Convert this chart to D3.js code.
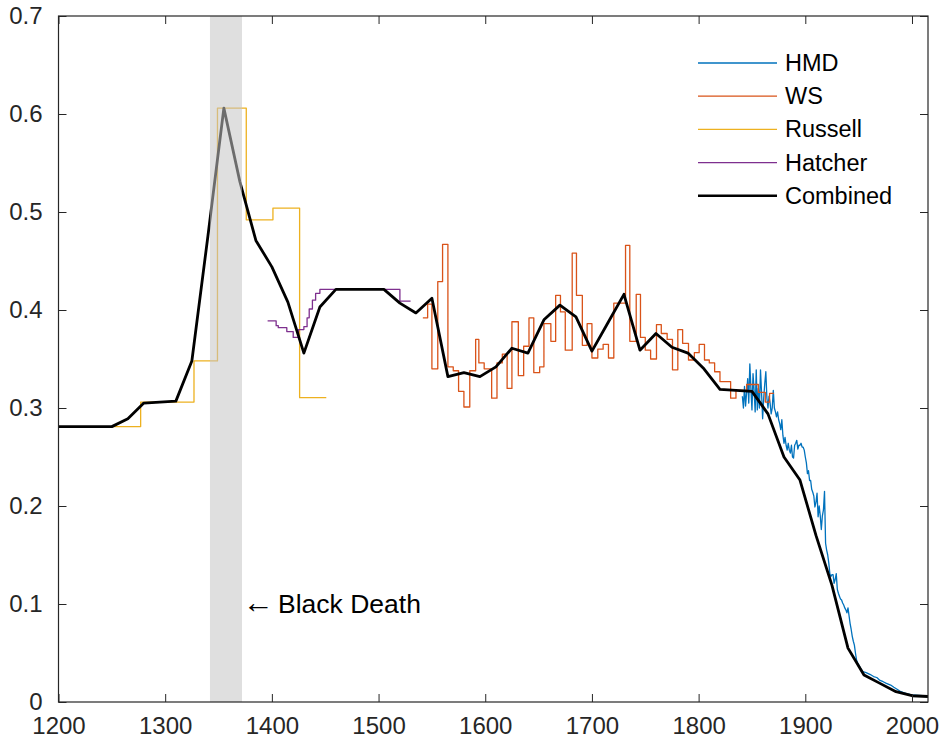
<!DOCTYPE html>
<html>
<head>
<meta charset="utf-8">
<script src="https://cdn.jsdelivr.net/npm/d3@7"></script>
<style>
  body { margin: 0; background: #fff; }
  text { font-family: "Liberation Sans", Arial, sans-serif; }
</style>
</head>
<body>
<div id="chart"></div>
<script>
// ---- data ----
var xTicks = [1200, 1300, 1400, 1500, 1600, 1700, 1800, 1900, 2000];
var yTicks = [0, 0.1, 0.2, 0.3, 0.4, 0.5, 0.6, 0.7];

var seriesNames = ["HMD", "WS", "Russell", "Hatcher", "Combined"];
var seriesColors = ["#0072BD", "#D95319", "#EDB120", "#7E2F8E", "#000000"];

var hmdYears = [1841, 1842, 1843, 1844, 1846, 1847, 1848, 1849, 1850, 1851, 1852, 1853, 1854, 1855, 1856, 1857, 1858, 1859, 1860,
  1861, 1862, 1863, 1864, 1865, 1866, 1867, 1868, 1869, 1870, 1871, 1872, 1873, 1874, 1875, 1876, 1877, 1878, 1879, 1880,
  1881, 1882, 1883, 1884, 1885, 1886, 1887, 1888, 1889, 1890, 1891, 1892, 1893, 1894, 1895, 1896, 1897, 1898, 1899, 1900,
  1901, 1902, 1903, 1904, 1905, 1906, 1907, 1908, 1909, 1910, 1911, 1912, 1913, 1914, 1915, 1916, 1917, 1918, 1919, 1920,
  1921, 1922, 1923, 1924, 1925, 1926, 1927, 1928, 1929, 1930, 1931, 1932, 1933, 1934, 1935, 1936, 1937, 1938, 1939, 1940,
  1941, 1942, 1943, 1944, 1945, 1946, 1947, 1948, 1949, 1950, 1952, 1954, 1957, 1961, 1964, 1967, 1970, 1973, 1976, 1980,
  1983, 1986, 1989, 1992, 1995, 1998, 2001, 2005, 2010, 2015];
var hmdValues = [0.312, 0.300, 0.322, 0.302, 0.330, 0.305, 0.345, 0.320, 0.298, 0.335, 0.318, 0.296, 0.339, 0.298, 0.320, 0.300, 0.339, 0.315, 0.289,
  0.310, 0.325, 0.337, 0.310, 0.300, 0.312, 0.305, 0.294, 0.300, 0.318, 0.300, 0.296, 0.291, 0.296, 0.288, 0.284, 0.278, 0.288, 0.272, 0.264,
  0.270, 0.262, 0.257, 0.264, 0.257, 0.254, 0.262, 0.250, 0.249, 0.262, 0.264, 0.267, 0.258, 0.262, 0.262, 0.264, 0.260, 0.260, 0.257, 0.250,
  0.244, 0.233, 0.236, 0.226, 0.226, 0.217, 0.214, 0.210, 0.199, 0.204, 0.213, 0.189, 0.200, 0.190, 0.176, 0.190, 0.196, 0.215, 0.162, 0.155,
  0.150, 0.142, 0.131, 0.128, 0.130, 0.130, 0.121, 0.125, 0.131, 0.115, 0.111, 0.108, 0.105, 0.104, 0.101, 0.099, 0.096, 0.094, 0.091, 0.096,
  0.088, 0.080, 0.074, 0.067, 0.062, 0.058, 0.050, 0.043, 0.040, 0.038, 0.034, 0.031, 0.030, 0.028, 0.026, 0.025, 0.022, 0.0207, 0.019, 0.0173,
  0.015, 0.013, 0.011, 0.0095, 0.0085, 0.0078, 0.0072, 0.0068, 0.0064, 0.0061];

// step series: value holds from its year to the next year (last value repeated at the end year)
var wsYears = [1541.5, 1546, 1550, 1555.5, 1560, 1565, 1570, 1575, 1580, 1585.5, 1591, 1594, 1599, 1606, 1611, 1616, 1620.5, 1625, 1631, 1636,
  1641, 1645.5, 1651, 1655, 1661.5, 1666, 1670.5, 1675, 1681.5, 1685.5, 1691, 1695.5, 1700, 1705.5, 1710.5, 1715.5, 1720.5, 1731.5, 1735.5, 1741.5,
  1745.5, 1750, 1755, 1760.5, 1765, 1770.5, 1775.5, 1780.5, 1785, 1790.5, 1796, 1800.5, 1805.5, 1810, 1815, 1820, 1830, 1835, 1845, 1856,
  1862.5, 1866.5, 1870.5];
var wsValues = [0.392, 0.406, 0.340, 0.429, 0.467, 0.342, 0.338, 0.317, 0.301, 0.338, 0.370, 0.346, 0.340, 0.310, 0.346, 0.355, 0.320, 0.388, 0.333, 0.363,
  0.392, 0.336, 0.342, 0.386, 0.368, 0.415, 0.398, 0.359, 0.458, 0.415, 0.364, 0.386, 0.351, 0.360, 0.365, 0.351, 0.407, 0.466, 0.368, 0.416,
  0.372, 0.359, 0.350, 0.385, 0.376, 0.370, 0.339, 0.380, 0.366, 0.349, 0.3565, 0.365, 0.349, 0.346, 0.337, 0.327, 0.310, 0.318, 0.324, 0.316,
  0.306, 0.315, 0.315];

var russellYears = [1200, 1277, 1327, 1349, 1376, 1401, 1426, 1451];
var russellValues = [0.281, 0.306, 0.348, 0.606, 0.492, 0.504, 0.3105, 0.3105];

var hatcherYears = [1396, 1404, 1406, 1414, 1420, 1425, 1430, 1433, 1435, 1438, 1441, 1445, 1520, 1530];
var hatcherValues = [0.389, 0.384, 0.382, 0.378, 0.372, 0.380, 0.383, 0.392, 0.401, 0.410, 0.417, 0.421, 0.409, 0.409];

var combinedYears = [1200, 1250, 1265, 1280, 1295, 1310, 1325, 1340, 1355, 1370, 1385, 1400, 1415, 1430, 1445, 1460, 1475, 1490, 1505,
  1520, 1535, 1550, 1565, 1580, 1595, 1610, 1625, 1640, 1655, 1670, 1685, 1700, 1715, 1730, 1745, 1760, 1775, 1790, 1805,
  1820, 1835, 1850, 1865, 1880, 1895, 1910, 1925, 1940, 1955, 1970, 1985, 2000, 2015];
var combinedValues = [0.281, 0.281, 0.289, 0.305, 0.306, 0.307, 0.348, 0.475, 0.606, 0.531, 0.471, 0.444, 0.408, 0.356, 0.403, 0.421, 0.421, 0.421, 0.421,
  0.407, 0.397, 0.412, 0.332, 0.336, 0.332, 0.342, 0.361, 0.356, 0.390, 0.405, 0.393, 0.358, 0.387, 0.416, 0.359, 0.376, 0.362, 0.356, 0.340,
  0.319, 0.318, 0.317, 0.294, 0.250, 0.2265, 0.170, 0.119, 0.055, 0.0275, 0.019, 0.0105, 0.0064, 0.0056];

var blackDeath = [1342, 1372];
var annotationArrow = "\u2190";
var annotationLabel = "Black Death";

// ---- chart ----
var W = 943, H = 744;
// plot box (note: "top" is taken by window.top, so prefix these)
var boxL = 58.5, boxR = 928, boxT = 16, boxB = 702;

var svg = d3.select("#chart").append("svg")
  .attr("width", W).attr("height", H);

var x = d3.scaleLinear().domain([1200, 2015]).range([boxL, boxR]);
var y = d3.scaleLinear().domain([0, 0.7]).range([boxB, boxT]);

function zipPts(years, vals) {
  return years.map(function(yr, i) { return [yr, vals[i]]; });
}

var series = [
  { pts: zipPts(hmdYears, hmdValues), curve: d3.curveLinear, w: 1.3 },
  { pts: zipPts(wsYears, wsValues), curve: d3.curveStepAfter, w: 1.3 },
  { pts: zipPts(russellYears, russellValues), curve: d3.curveStepAfter, w: 1.3 },
  { pts: zipPts(hatcherYears, hatcherValues), curve: d3.curveStepAfter, w: 1.3 },
  { pts: zipPts(combinedYears, combinedValues), curve: d3.curveLinear, w: 2.8 }
];

var plot = svg.append("g");

series.forEach(function(s, i) {
  var line = d3.line()
    .x(function(d) { return x(d[0]); })
    .y(function(d) { return y(d[1]); })
    .curve(s.curve);
  plot.append("path")
    .datum(s.pts)
    .attr("d", line)
    .attr("fill", "none")
    .attr("stroke", seriesColors[i])
    .attr("stroke-width", s.w)
    .attr("stroke-linejoin", "round");
});

// translucent band drawn over the lines
plot.append("rect")
  .attr("x", x(blackDeath[0]))
  .attr("y", boxT)
  .attr("width", x(blackDeath[1]) - x(blackDeath[0]))
  .attr("height", boxB - boxT)
  .attr("fill", "#c4c4c4")
  .attr("fill-opacity", 0.55);

// annotation: arrow + label to the right of the band
var noteX = x(blackDeath[1]) + 1, noteY = y(0.1) + 9;
svg.append("text")
  .attr("x", noteX).attr("y", noteY)
  .attr("font-family", "'DejaVu Sans', sans-serif")
  .attr("font-size", 31)
  .attr("fill", "#000")
  .text(annotationArrow);
svg.append("text")
  .attr("x", noteX + 35).attr("y", noteY)
  .attr("font-size", 26.5)
  .attr("fill", "#000")
  .text(annotationLabel);

// axes: box with inward ticks on all four sides
var axisColor = "#262626";
var tickLen = 8;

var xAxis = d3.axisBottom(x).tickValues(xTicks).tickSize(-tickLen).tickPadding(15).tickFormat(d3.format("d"));
var yAxis = d3.axisLeft(y).tickValues(yTicks).tickSize(-tickLen).tickPadding(16)
  .tickFormat(function(d) { return d === 0 ? "0" : d3.format(".1f")(d); });

var gx = svg.append("g").attr("transform", "translate(0," + boxB + ")").call(xAxis);
var gy = svg.append("g").attr("transform", "translate(" + boxL + ",0)").call(yAxis);
var gxTop = svg.append("g").attr("transform", "translate(0," + boxT + ")")
  .call(d3.axisTop(x).tickValues(xTicks).tickSize(-tickLen).tickFormat(""));
var gyRight = svg.append("g").attr("transform", "translate(" + boxR + ",0)")
  .call(d3.axisRight(y).tickValues(yTicks).tickSize(-tickLen).tickFormat(""));

[gx, gy, gxTop, gyRight].forEach(function(g) {
  g.select(".domain").remove();
  g.selectAll("line").attr("stroke", axisColor).attr("stroke-width", 1);
  g.selectAll("text").attr("font-size", 24).attr("fill", axisColor)
    .attr("font-family", "'Liberation Sans', Arial, sans-serif");
});

svg.append("rect")
  .attr("x", boxL).attr("y", boxT)
  .attr("width", boxR - boxL).attr("height", boxB - boxT)
  .attr("fill", "none").attr("stroke", axisColor).attr("stroke-width", 1.2);

// legend
var legend = svg.append("g").attr("transform", "translate(698,63)");
seriesNames.forEach(function(name, i) {
  var row = legend.append("g").attr("transform", "translate(0," + (i * 33.2) + ")");
  row.append("line")
    .attr("x1", 0).attr("x2", 79).attr("y1", 0).attr("y2", 0)
    .attr("stroke", seriesColors[i])
    .attr("stroke-width", i === 4 ? 2.6 : 1.3);
  row.append("text")
    .attr("x", 87).attr("y", 8)
    .attr("font-size", 23.5)
    .attr("fill", "#000")
    .text(name);
});
</script>
</body>
</html>
